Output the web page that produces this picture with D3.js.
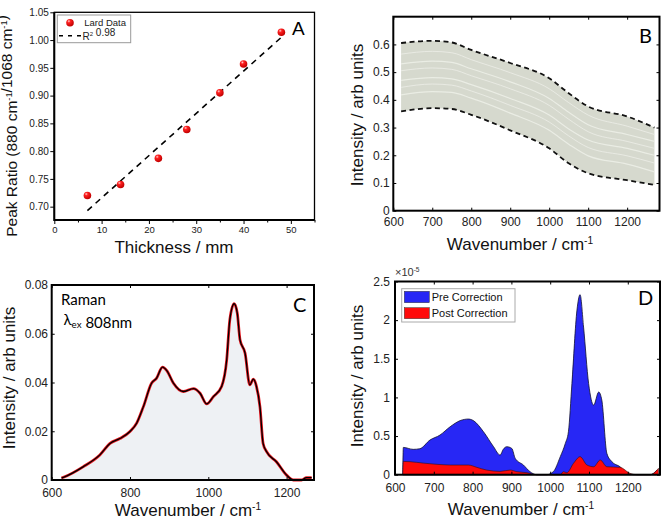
<!DOCTYPE html>
<html><head><meta charset="utf-8">
<script src="https://cdn.jsdelivr.net/npm/d3@7"></script>
<style>body{margin:0;background:#fff}svg{display:block}</style>
</head><body>
<svg id="chart" width="664" height="526"></svg>
<script>
// ---------- DATA ----------
// Panel A
const thicknessMM = [7, 14, 22, 28, 35, 40, 48];
const peakRatio = [0.72, 0.74, 0.787, 0.839, 0.905, 0.957, 1.014];
const fitThickness = [7, 48];
const fitRatio = [0.693, 1.005];
const ticksAX = [0, 10, 20, 30, 40, 50];
const minorAX = [5, 15, 25, 35, 45, 55];
const ticksAY = [0.70, 0.75, 0.80, 0.85, 0.90, 0.95, 1.00, 1.05];

// Panel B
const wnB = [620, 700, 750, 800, 900, 1000, 1050, 1100, 1200, 1270];
const upperB = [0.605, 0.613, 0.607, 0.58, 0.533, 0.478, 0.424, 0.376, 0.34, 0.30];
const lowerB = [0.358, 0.37, 0.367, 0.346, 0.29, 0.225, 0.171, 0.135, 0.11, 0.093];
const whiteB1 = [0.565, 0.575, 0.57, 0.545, 0.498, 0.44, 0.39, 0.345, 0.305, 0.275];
const whiteB2 = [0.53, 0.54, 0.535, 0.512, 0.465, 0.405, 0.355, 0.31, 0.275, 0.25];
const whiteB3 = [0.505, 0.515, 0.51, 0.487, 0.44, 0.38, 0.33, 0.285, 0.25, 0.225];
const whiteB4 = [0.47, 0.48, 0.476, 0.455, 0.405, 0.345, 0.295, 0.255, 0.225, 0.2];
const whiteB5 = [0.445, 0.457, 0.453, 0.432, 0.38, 0.32, 0.27, 0.228, 0.198, 0.172];
const whiteB6 = [0.418, 0.43, 0.427, 0.406, 0.352, 0.29, 0.24, 0.198, 0.168, 0.14];
const ticksBX = [600, 700, 800, 900, 1000, 1100, 1200];
const ticksBY = [0, 0.1, 0.2, 0.3, 0.4, 0.5, 0.6];

// Panel C
const wnC = [625, 630, 681, 723, 749, 774, 800, 817, 834, 855, 868, 883, 894, 911, 936, 962, 979, 996, 1013, 1034, 1047, 1055, 1066, 1074, 1081, 1094, 1106, 1115, 1123, 1132, 1140, 1149, 1174, 1200, 1217, 1238, 1251, 1264];
const ramanC = [0.0008, 0.0011, 0.0055, 0.0103, 0.015, 0.017, 0.0199, 0.0233, 0.030, 0.0397, 0.0418, 0.0463, 0.0449, 0.0397, 0.0363, 0.0375, 0.0356, 0.0312, 0.0342, 0.0384, 0.0493, 0.0658, 0.0723, 0.0685, 0.0575, 0.052, 0.039, 0.0414, 0.0384, 0.030, 0.015, 0.0116, 0.0075, 0.002, 0, 0, 0.001, 0.001];
const ticksCX = [600, 800, 1000, 1200];
const ticksCY = [0, 0.02, 0.04, 0.06, 0.08];

// Panel D (values in units of 1e-5)
const wnPre = [620, 621.5, 647, 664, 690, 716, 742, 768, 789, 802, 828, 854, 871, 879, 888, 901, 910, 931, 948, 965, 991, 1008, 1026, 1039, 1047, 1056, 1069, 1077, 1086, 1099, 1112, 1125, 1133, 1146, 1159, 1180, 1198, 1215, 1258, 1275];
const preCorr = [0, 0.353, 0.328, 0.336, 0.448, 0.513, 0.62, 0.70, 0.72, 0.70, 0.556, 0.362, 0.254, 0.328, 0.362, 0.34, 0.21, 0.125, 0.039, 0, 0, 0.039, 0.233, 0.405, 0.556, 1.18, 2.13, 2.33, 1.91, 1.18, 0.90, 1.07, 0.966, 0.276, 0.168, 0.103, 0.017, 0, 0, 0.06];
const wnPost = [620, 621.5, 690, 742, 789, 811, 836, 871, 897, 914, 940, 965, 1026, 1034, 1043, 1060, 1077, 1095, 1112, 1129, 1146, 1180, 1206, 1223, 1258, 1279];
const postCorr = [0, 0.172, 0.142, 0.125, 0.125, 0.095, 0.06, 0.043, 0.06, 0.039, 0.026, 0, 0, 0.039, 0.026, 0.147, 0.233, 0.125, 0.103, 0.19, 0.103, 0.095, 0.017, 0, 0, 0.082];
const ticksDX = [600, 700, 800, 900, 1000, 1100, 1200];
const ticksDY = [0, 0.5, 1, 1.5, 2, 2.5];

// ---------- DRAW ----------
const svg = d3.select("#chart");
svg.append("rect").attr("width", 664).attr("height", 526).attr("fill", "#fff");
const FONT = "'Liberation Sans', Arial, sans-serif";
const FONT2 = "Lato, 'Open Sans', sans-serif";

const defs = svg.append("defs");
const grad = defs.append("radialGradient").attr("id", "ball").attr("cx", "35%").attr("cy", "30%").attr("r", "70%");
grad.append("stop").attr("offset", "0%").attr("stop-color", "#ffd0d0");
grad.append("stop").attr("offset", "30%").attr("stop-color", "#ff2020");
grad.append("stop").attr("offset", "100%").attr("stop-color", "#c00000");

function styleAxis(g, fs) {
  g.select(".domain").remove();
  g.selectAll(".tick line").attr("stroke", "#000").attr("stroke-width", 1);
  g.selectAll(".tick text").attr("font-family", FONT).attr("font-size", fs).attr("fill", "#222");
}

function frame(x0, y0, x1, y1, w) {
  svg.append("rect").attr("x", x0).attr("y", y0).attr("width", x1 - x0).attr("height", y1 - y0)
    .attr("fill", "none").attr("stroke", "#000").attr("stroke-width", w);
}

function inwardAxes(x, y, tx, ty, fmtY, padX, padY, fs) {
  const [l, r] = x.range(), [b, t] = y.range();
  const gb = svg.append("g").attr("transform", `translate(0,${b})`)
    .call(d3.axisBottom(x).tickValues(tx).tickSizeInner(-3).tickSizeOuter(0).tickPadding(padX).tickFormat(d3.format("d")));
  styleAxis(gb, fs);
  const gt = svg.append("g").attr("transform", `translate(0,${t})`)
    .call(d3.axisTop(x).tickValues(tx).tickSizeInner(-3).tickSizeOuter(0).tickFormat(""));
  styleAxis(gt, fs);
  const gl = svg.append("g").attr("transform", `translate(${l},0)`)
    .call(d3.axisLeft(y).tickValues(ty).tickSizeInner(-3).tickSizeOuter(0).tickPadding(padY).tickFormat(fmtY));
  styleAxis(gl, fs);
  const gr = svg.append("g").attr("transform", `translate(${r},0)`)
    .call(d3.axisRight(y).tickValues(ty).tickSizeInner(-3).tickSizeOuter(0).tickFormat(""));
  styleAxis(gr, fs);
}

function supText(parent, parts, attrs) {
  const t = parent.append("text");
  Object.entries(attrs).forEach(([k, v]) => t.attr(k, v));
  parts.forEach(p => {
    if (p.sup) {
      t.append("tspan").attr("font-size", "0.6em").attr("dy", "-0.55em").text(p.sup);
      t.append("tspan").attr("dy", "0.33em").text("");
    } else if (p.sub) {
      t.append("tspan").attr("font-size", "0.65em").attr("dy", "0.35em").text(p.sub);
      t.append("tspan").attr("dy", "-0.23em").text("");
    } else {
      t.append("tspan").text(p.t);
    }
  });
  return t;
}

// ===== Panel A =====
{
  const x = d3.scaleLinear().domain([0, 55]).range([54.3, 314.5]);
  const y = d3.scaleLinear().domain([0.676, 1.05]).range([220, 12.3]);
  const gb = svg.append("g").attr("transform", "translate(0,220)")
    .call(d3.axisBottom(x).tickValues(ticksAX).tickSize(4).tickPadding(2).tickFormat(d3.format("d")));
  styleAxis(gb, 9.5);
  const gm = svg.append("g").attr("transform", "translate(0,220)")
    .call(d3.axisBottom(x).tickValues(minorAX).tickSize(2.5).tickFormat(""));
  styleAxis(gm, 9.5);
  const gl = svg.append("g").attr("transform", "translate(54.3,0)")
    .call(d3.axisLeft(y).tickValues(ticksAY).tickSize(4).tickPadding(1.5).tickFormat(d3.format(".2f")));
  styleAxis(gl, 10);

  const fit = fitThickness.map((d, i) => [d, fitRatio[i]]);
  svg.append("path").attr("d", d3.line().x(d => x(d[0])).y(d => y(d[1]))(fit))
    .attr("stroke", "#000").attr("stroke-width", 1.6).attr("stroke-dasharray", "6,5").attr("fill", "none");
  svg.append("g").selectAll("circle").data(thicknessMM.map((d, i) => [d, peakRatio[i]])).join("circle")
    .attr("cx", d => x(d[0])).attr("cy", d => y(d[1])).attr("r", 3.8).attr("fill", "url(#ball)");

  frame(54.3, 12.3, 314.5, 220, 1.3);
  svg.append("path").attr("d", "M54.3,12.3V220H314.5").attr("stroke", "#000").attr("stroke-width", 2).attr("fill", "none");

  svg.append("rect").attr("x", 57.3).attr("y", 15).attr("width", 73.4).attr("height", 27.7)
    .attr("fill", "#fff").attr("stroke", "#999").attr("stroke-width", 1);
  svg.append("circle").attr("cx", 70).attr("cy", 22.7).attr("r", 3.8).attr("fill", "url(#ball)");
  svg.append("text").attr("x", 84.3).attr("y", 26.3).attr("font-family", FONT).attr("font-size", 9.5).attr("fill", "#222").text("Lard Data");
  svg.append("path").attr("d", "M59,35.7H81").attr("stroke", "#000").attr("stroke-width", 1.4).attr("stroke-dasharray", "4,5");
  supText(svg, [{t: "R"}, {sup: "2"}, {t: " 0.98"}], {x: 82.5, y: 39.5, "font-family": FONT, "font-size": 10, fill: "#222"});

  svg.append("text").attr("x", 292).attr("y", 35).attr("font-family", FONT).attr("font-size", 19).attr("fill", "#000").text("A");
  svg.append("text").attr("x", 174).attr("y", 252.5).attr("text-anchor", "middle").attr("font-family", FONT).attr("font-size", 17).attr("fill", "#111").text("Thickness / mm");
  supText(svg, [{t: "Peak Ratio (880 cm"}, {sup: "-1"}, {t: "/1068 cm"}, {sup: "-1"}, {t: ")"}],
    {transform: "translate(17,126) rotate(-90)", "text-anchor": "middle", "font-family": FONT, "font-size": 15.5, fill: "#111"});
}

// ===== Panel B =====
{
  const x = d3.scaleLinear().domain([600, 1283]).range([393.3, 659.5]);
  const y = d3.scaleLinear().domain([0, 0.7]).range([210.7, 16.7]);
  const band = wnB.map((w, i) => ({w, hi: upperB[i], lo: lowerB[i]}));
  svg.append("path").attr("d", d3.area().curve(d3.curveMonotoneX).x(d => x(d.w)).y0(d => y(d.lo)).y1(d => y(d.hi))(band))
    .attr("fill", "#d6d9ce");
  const line = d3.line().curve(d3.curveMonotoneX).x(d => x(d[0])).y(d => y(d[1]));
  [whiteB1, whiteB2, whiteB3, whiteB4, whiteB5, whiteB6].forEach((arr, k) => {
    svg.append("path").attr("d", line(wnB.map((w, i) => [w, arr[i]])))
      .attr("fill", "none").attr("stroke", "#eceee7").attr("stroke-width", k % 2 ? 1.2 : 0.9).attr("opacity", 0.9);
  });
  [upperB, lowerB].forEach(arr => {
    svg.append("path").attr("d", line(wnB.map((w, i) => [w, arr[i]])))
      .attr("fill", "none").attr("stroke", "#111").attr("stroke-width", 1.8).attr("stroke-dasharray", "5,3.5");
  });
  inwardAxes(x, y, ticksBX, ticksBY, d => d === 0 ? "0" : d3.format(".1f")(d), 7, 3.5, 12);
  frame(393.3, 16.7, 659.5, 210.7, 2);
  svg.append("text").attr("x", 639).attr("y", 43).attr("font-family", FONT2).attr("font-size", 20).attr("fill", "#000").text("B");
  supText(svg, [{t: "Wavenumber / cm"}, {sup: "-1"}], {x: 520, y: 250, "text-anchor": "middle", "font-family": FONT, "font-size": 17, fill: "#111"});
  svg.append("text").attr("transform", "translate(363,115) rotate(-90)").attr("text-anchor", "middle")
    .attr("font-family", FONT).attr("font-size", 17).attr("fill", "#111").text("Intensity / arb units");
}

// ===== Panel C =====
{
  const x = d3.scaleLinear().domain([600, 1270]).range([51.7, 314]);
  const y = d3.scaleLinear().domain([0, 0.08]).range([480, 285]);
  const pts = wnC.map((w, i) => [w, ramanC[i]]);
  svg.append("path").attr("d", d3.area().curve(d3.curveMonotoneX).x(d => x(d[0])).y0(y(0)).y1(d => y(d[1]))(pts))
    .attr("fill", "#eef1f4");
  const line = d3.line().curve(d3.curveMonotoneX).x(d => x(d[0])).y(d => y(d[1]));
  svg.append("path").attr("d", line(pts)).attr("fill", "none").attr("stroke", "#e8141c").attr("stroke-width", 2.8);
  svg.append("path").attr("d", line(pts)).attr("fill", "none").attr("stroke", "#000").attr("stroke-width", 1.3);
  inwardAxes(x, y, ticksCX, ticksCY, d => d === 0 ? "0" : d3.format(".2f")(d), 8, 3.7, 12);
  frame(51.7, 285, 314, 480, 2);
  svg.append("text").attr("x", 293).attr("y", 312).attr("font-family", FONT2).attr("font-size", 20).attr("fill", "#000").text("C");
  svg.append("text").attr("x", 61).attr("y", 305).attr("font-family", FONT2).attr("font-size", 15).attr("fill", "#000").text("Raman");
  supText(svg, [{t: "λ"}, {sub: "ex"}, {t: " 808nm"}], {x: 63.5, y: 325, "font-family": FONT2, "font-size": 15, fill: "#000"});
  supText(svg, [{t: "Wavenumber / cm"}, {sup: "-1"}], {x: 188, y: 516, "text-anchor": "middle", "font-family": FONT, "font-size": 17, fill: "#111"});
  svg.append("text").attr("transform", "translate(15,378) rotate(-90)").attr("text-anchor", "middle")
    .attr("font-family", FONT).attr("font-size", 17).attr("fill", "#111").text("Intensity / arb units");
}

// ===== Panel D =====
{
  const x = d3.scaleLinear().domain([600, 1283]).range([395, 660]);
  const y = d3.scaleLinear().domain([0, 2.5]).range([474.7, 281.5]);
  const area = d3.area().curve(d3.curveMonotoneX).x(d => x(d[0])).y0(y(0)).y1(d => y(d[1]));
  const pre = wnPre.map((w, i) => [w, preCorr[i]]);
  const post = wnPost.map((w, i) => [w, postCorr[i]]);
  svg.append("path").attr("d", area(pre)).attr("fill", "#2727f5").attr("stroke", "#101030").attr("stroke-width", 0.8);
  svg.append("path").attr("d", area(post)).attr("fill", "#ff0a0a").attr("stroke", "#301010").attr("stroke-width", 0.6);
  inwardAxes(x, y, ticksDX, ticksDY, d => d3.format("")(d), 8.5, 5, 12);
  frame(395, 281.5, 660, 474.7, 2);
  supText(svg, [{t: "×10"}, {sup: "-5"}], {x: 395, y: 276, "font-family": FONT, "font-size": 11, fill: "#333"});
  svg.append("rect").attr("x", 401.7).attr("y", 288.7).attr("width", 113.3).attr("height", 33.3)
    .attr("fill", "#fff").attr("stroke", "#aaa").attr("stroke-width", 1);
  svg.append("rect").attr("x", 404.3).attr("y", 291.3).attr("width", 25).attr("height", 11.4).attr("fill", "#2727f5").attr("stroke", "#333").attr("stroke-width", 0.5);
  svg.append("rect").attr("x", 404.3).attr("y", 307.7).attr("width", 25).attr("height", 11).attr("fill", "#ff0a0a").attr("stroke", "#333").attr("stroke-width", 0.5);
  svg.append("text").attr("x", 431.7).attr("y", 301.3).attr("font-family", FONT).attr("font-size", 11).attr("fill", "#111").text("Pre Correction");
  svg.append("text").attr("x", 431.7).attr("y", 317.3).attr("font-family", FONT).attr("font-size", 11).attr("fill", "#111").text("Post Correction");
  svg.append("text").attr("x", 638).attr("y", 305).attr("font-family", FONT2).attr("font-size", 20).attr("fill", "#000").text("D");
  supText(svg, [{t: "Wavenumber / cm"}, {sup: "-1"}], {x: 521, y: 515, "text-anchor": "middle", "font-family": FONT, "font-size": 17, fill: "#111"});
  svg.append("text").attr("transform", "translate(363,376) rotate(-90)").attr("text-anchor", "middle")
    .attr("font-family", FONT).attr("font-size", 17).attr("fill", "#111").text("Intensity / arb units");
}
</script>
</body></html>
